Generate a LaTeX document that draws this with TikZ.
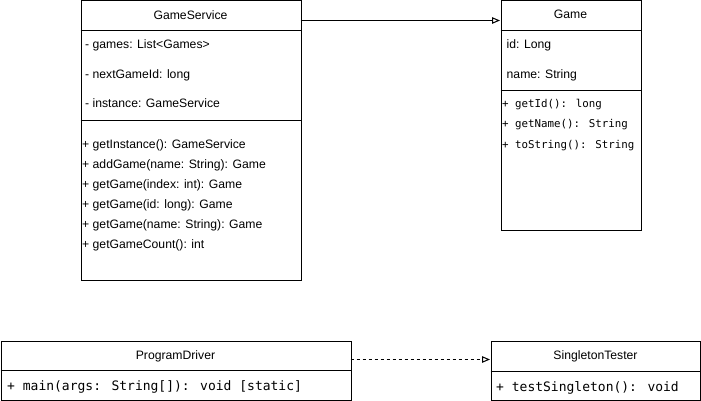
\documentclass[tikz,border=0pt]{standalone}
\usepackage{fontspec}
\setmainfont{Liberation Sans}
\newfontfamily\monofont{DejaVu Sans Mono}
\usetikzlibrary{arrows.meta}
\begin{document}
\begin{tikzpicture}[x=1pt,y=-1pt,
  box/.style={draw,line width=1pt,anchor=north west,inner sep=0pt,minimum width=#1},
  divline/.style={line width=1pt},
  txt/.style={anchor=base west,inner sep=0pt,font=\fontsize{12.2}{14}\selectfont},
  ttl/.style={anchor=base,inner sep=0pt,font=\fontsize{12.2}{14}\selectfont},
  mono/.style={anchor=base west,inner sep=0pt,font=\monofont\fontsize{10.8}{13}\selectfont},
  bigmono/.style={anchor=base west,inner sep=0pt,font=\monofont\fontsize{13}{15}\selectfont},
  conn/.style={line width=1pt,-{Triangle[open,length=8pt,width=6.5pt]}}]
\useasboundingbox (0,0) rectangle (701,401);

% GameService
\node[box=220pt,minimum height=279pt] (gs) at (80.5,0.5) {};
\coordinate (gsd1l) at (80.5,30.5); \coordinate (gsd1r) at (300.5,30.5);
\coordinate (gsd2l) at (80.5,120.5); \coordinate (gsd2r) at (300.5,120.5);
\draw[divline] (gsd1l) -- (gsd1r);
\draw[divline] (gsd2l) -- (gsd2r);
\node[ttl] (gst) at (190.5,20) {GameService};
\node[txt] (gsa1) at (85,49) {- games: List<Games>};
\node[txt] (gsa2) at (85,79) {- nextGameId: long};
\node[txt] (gsa3) at (85,108) {- instance: GameService};
\node[txt] (gsm1) at (82,148) {+ getInstance(): GameService};
\node[txt] (gsm2) at (82,168) {+ addGame(name: String): Game};
\node[txt] (gsm3) at (82,188) {+ getGame(index: int): Game};
\node[txt] (gsm4) at (82,208) {+ getGame(id: long): Game};
\node[txt] (gsm5) at (82,228) {+ getGame(name: String): Game};
\node[txt] (gsm6) at (82,248) {+ getGameCount(): int};

% Game
\node[box=140pt,minimum height=229.5pt] (g) at (500.5,0.5) {};
\coordinate (gd1l) at (500.5,30.5); \coordinate (gd1r) at (640.5,30.5);
\coordinate (gd2l) at (500.5,90.5); \coordinate (gd2r) at (640.5,90.5);
\draw[divline] (gd1l) -- (gd1r);
\draw[divline] (gd2l) -- (gd2r);
\node[ttl] (gt) at (570.5,19) {Game};
\node[txt] (ga1) at (506.5,49) {id: Long};
\node[txt] (ga2) at (506.5,79) {name: String};
\node[mono] (gm1) at (502,108) {+ getId(): long};
\node[mono] (gm2) at (502,128) {+ getName(): String};
\node[mono] (gm3) at (502,148) {+ toString(): String};

% ProgramDriver
\node[box=350pt,minimum height=59.5pt] (pd) at (0.5,340.5) {};
\coordinate (pdl) at (0.5,370.5); \coordinate (pdr) at (350.5,370.5);
\draw[divline] (pdl) -- (pdr);
\node[ttl] (pdt) at (175.5,359) {ProgramDriver};
\node[bigmono] (pdm) at (7,390) {+ main(args: String[]): void [static]};

% SingletonTester
\node[box=209.5pt,minimum height=59.5pt] (st) at (490.5,340.5) {};
\coordinate (stl) at (490.5,371.5); \coordinate (str) at (700,371.5);
\draw[divline] (stl) -- (str);
\node[ttl] (stt) at (595.5,359) {SingletonTester};
\node[bigmono] (stm) at (496,391) {+ testSingleton(): void};

% connectors
\coordinate (a1) at (300.5,20.5);
\coordinate (a2) at (500,20.5);
\draw[conn] (a1) -- (a2);
\coordinate (b1) at (350.5,359.5);
\coordinate (b2) at (490,359.5);
\draw[conn,dash pattern=on 3pt off 3pt] (b1) -- (b2);
\end{tikzpicture}
\end{document}
